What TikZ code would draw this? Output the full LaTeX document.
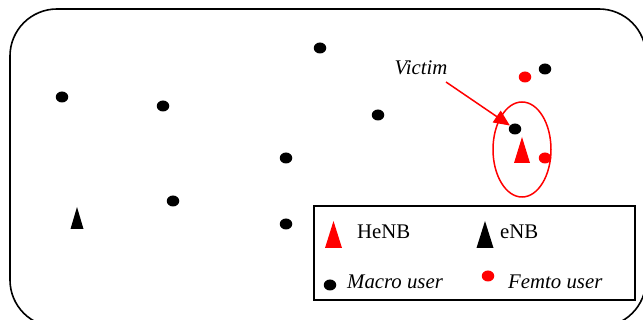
\documentclass[tikz,border=0pt]{standalone}
\usepackage{fontspec}
\setmainfont{Liberation Serif}
\usetikzlibrary{shapes.geometric,arrows.meta}
\begin{document}
\begin{tikzpicture}[x=1pt,y=-1pt,
  mdot/.style={ellipse,fill=black,inner sep=0pt,minimum width=12.5pt,minimum height=11pt},
  fdot/.style={ellipse,fill=red,inner sep=0pt,minimum width=12.5pt,minimum height=11pt},
  lbl/.style={font=\fontsize{20.8}{22}\selectfont,inner sep=0pt},
  ilbl/.style={font=\fontsize{20.8}{22}\selectfont\itshape,inner sep=0pt}]
\useasboundingbox (0,0) rectangle (643,320);
% outer region
\draw[line width=1.6pt,rounded corners=47pt] (10,9) rectangle (646,327);
% macro users
\node[mdot] (m1) at (320,48) {};
\node[mdot] (m2) at (62,97) {};
\node[mdot] (m3) at (163,106) {};
\node[mdot] (m4) at (378,115) {};
\node[mdot] (m5) at (286,158) {};
\node[mdot] (m6) at (173,201) {};
\node[mdot] (m7) at (286,224) {};
\node[mdot] (m8) at (545,69) {};
\node[mdot] (v) at (515,129) {};
% femto users
\node[fdot] (f1) at (525,77) {};
\node[fdot] (f2) at (545,158) {};
% eNB
\fill[black] (77,207) -- (83.5,229) -- (70.5,229) -- cycle;
% HeNB
\fill[red] (522,137) -- (530,163) -- (514,163) -- cycle;
% femto cell coverage
\node[ellipse,draw=red,line width=1.5pt,minimum width=58pt,minimum height=95pt,inner sep=0pt] (cell) at (522,149.5) {};
% victim label and arrow
\node[ilbl] (vl) at (421,68) {Victim};
\coordinate (as) at (446,82);
\draw[red,line width=1.5pt,-{Triangle[length=16pt,width=14pt]}] (as) -- (v);
% legend
\draw[line width=1.6pt] (314,206) rectangle (635,300);
\fill[red] (333.5,221) -- (342,248) -- (325,248) -- cycle;
\node[lbl,anchor=west] (lh) at (357,232) {HeNB};
\fill[black] (485,221) -- (493.5,248) -- (476.5,248) -- cycle;
\node[lbl,anchor=west] (le) at (500,232) {eNB};
\node[mdot] (lm) at (330,285) {};
\node[ilbl,anchor=west] (lmt) at (347,282) {Macro user};
\node[fdot] (lf) at (488,276) {};
\node[ilbl,anchor=west] (lft) at (508,282) {Femto user};
\end{tikzpicture}
\end{document}
